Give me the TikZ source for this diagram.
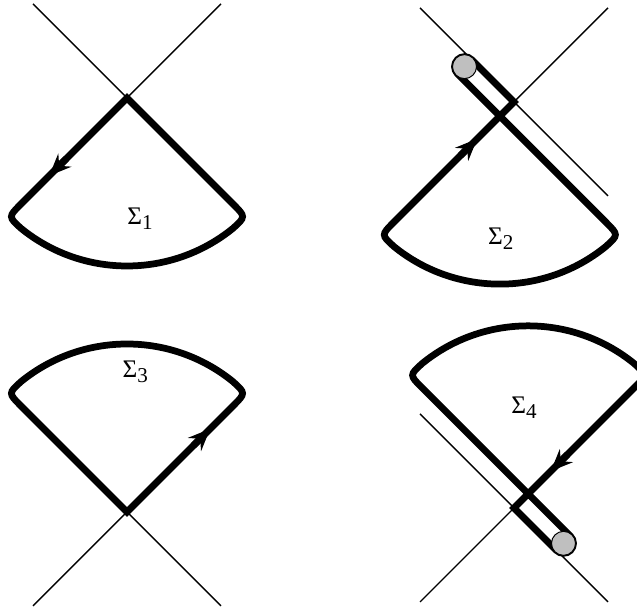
\documentclass[tikz,border=0pt]{standalone}
\usepackage{fontspec}
\setmainfont{Liberation Serif}
\usetikzlibrary{arrows.meta, calc}
\begin{document}
\begin{tikzpicture}[>=Stealth,
    axis/.style={line width=1pt},
    contour/.style={line width=4.8pt, line join=miter},
    head/.style={line width=4.8pt, -{Stealth[length=5.5mm, width=4.6mm, inset=2mm]}},
    pole/.style={circle, draw, fill=black!25, line width=0.7pt, minimum size=0.6cm, inner sep=0pt},
    lab/.style={font=\fontsize{18}{20}\selectfont}]
  \useasboundingbox (0,0) rectangle (15.925,15.25);
  % Sigma_1 and Sigma_3
  \foreach \x/\y/\rot/\n/\tip in {3.175/12.8/0/1/2.75, 3.175/2.45/180/3/2.94}{
    \begin{scope}[shift={(\x,\y)}, rotate=\rot]
      \coordinate (a\n) at (0,0);
      \coordinate (l\n) at (225:4.2);
      \coordinate (r\n) at (315:4.2);
      \draw[axis] (-2.35,2.35) -- (a\n) -- (2.35,2.35);
      \draw[contour] (a\n) -- (225:3.75) .. controls (l\n) .. (231:4.2)
        arc (231:309:4.2) .. controls (r\n) .. (315:3.75) -- cycle;
      \draw[head] (225:\tip-0.6) -- (225:\tip);
    \end{scope}
  }
  % Sigma_2 and Sigma_4, with the cut
  \foreach \x/\y/\rot/\n in {12.85/12.7/0/2, 12.85/2.55/180/4}{
    \begin{scope}[shift={(\x,\y)}, rotate=\rot]
      \coordinate (p\n) at (0,0);
      \draw[axis] (-2.35,2.35) -- (2.35,-2.35);
      \draw[axis] (2.35,2.35) -- (p\n);
      \begin{scope}[shift={(225:0.5)}]
        \coordinate (q\n) at (0,0);
        \coordinate (l\n) at (225:4.2);
        \coordinate (r\n) at (315:4.2);
        \draw[contour] (45:0.5) -- (-0.7071,1.4142)
          arc[start angle=45, end angle=225, radius=0.25] -- (q\n)
          -- (315:3.75) .. controls (r\n) .. (309:4.2)
          arc (309:231:4.2) .. controls (l\n) .. (225:3.75) -- cycle;
        \draw[head] (225:1.4) -- (225:0.8);
        \node[pole] (b\n) at (-0.8839,1.2374) {};
      \end{scope}
    \end{scope}
  }
  % labels
  \node[lab] (s1) at (3.5,9.78) {Σ\raisebox{-0.45ex}{\fontsize{15}{16}\selectfont 1}};
  \node[lab] (s2) at (12.52,9.28) {Σ\raisebox{-0.45ex}{\fontsize{15}{16}\selectfont 2}};
  \node[lab] (s3) at (3.38,5.95) {Σ\raisebox{-0.45ex}{\fontsize{15}{16}\selectfont 3}};
  \node[lab] (s4) at (13.1,5.05) {Σ\raisebox{-0.45ex}{\fontsize{15}{16}\selectfont 4}};
\end{tikzpicture}
\end{document}
